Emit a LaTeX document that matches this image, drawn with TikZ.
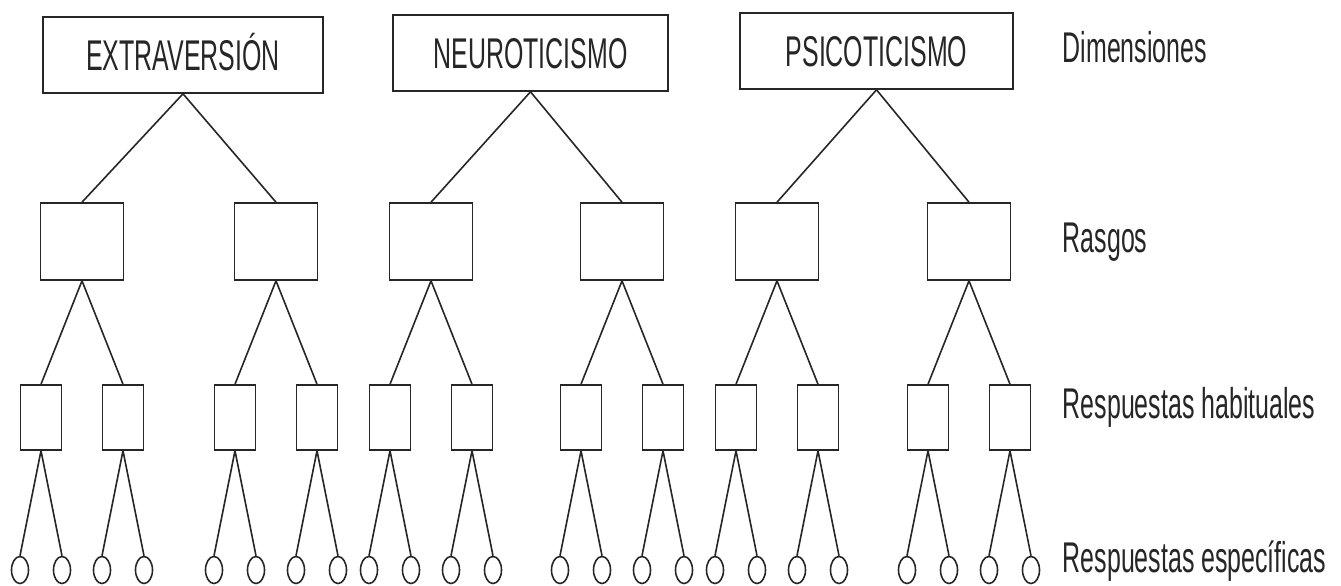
\documentclass[tikz,border=0pt]{standalone}
\usepackage{fontspec}
\newfontfamily\condfont[FakeStretch=0.58]{Liberation Sans}
\usetikzlibrary{shapes.geometric}
\definecolor{ink}{HTML}{262626}
\begin{document}
\begin{tikzpicture}[x=1pt,y=-1pt,line width=1.6pt,draw=ink,
  txt/.style={font=\condfont\fontsize{43}{50}\selectfont,text=ink},
  dimbox/.style={draw,inner sep=0pt,minimum height=76pt,txt,text height=31pt,text depth=0pt},
  rasgo/.style={draw,inner sep=0pt,minimum width=83pt,minimum height=77pt},
  habit/.style={draw,inner sep=0pt,minimum width=41pt,minimum height=65pt},
  resp/.style={draw,ellipse,inner sep=0pt,minimum width=17pt,minimum height=27pt},
  lab/.style={txt,anchor=base west,inner sep=0pt}]
\useasboundingbox (0,0) rectangle (1341,586);
\node[dimbox,minimum width=280pt] (d1) at (183,55) {EXTRAVERSIÓN};
\node[dimbox,minimum width=275pt] (d2) at (530.5,53) {NEUROTICISMO};
\node[dimbox,minimum width=273pt] (d3) at (876.5,51) {PSICOTICISMO};
\foreach \i/\x/\p in {1/82/1,2/276/1,3/431/2,4/622/2,5/777/3,6/969/3}{
  \node[rasgo] (r\i) at (\x,241.5) {};
  \draw (d\p.south) -- (r\i.north);
  \foreach \s [count=\j] in {-41,41}{
    \pgfmathtruncatemacro\h{2*(\i-1)+\j}
    \node[habit] (h\h) at (\x+\s,417.5) {};
    \draw (r\i.south) -- (h\h.north);
    \foreach \t [count=\k] in {-21,21}{
      \pgfmathtruncatemacro\c{2*(\h-1)+\k}
      \node[resp] (c\c) at (\x+\s+\t,570) {};
      \draw (h\h.south) -- (c\c.north);
    }
  }
}
\node[lab] (l1) at (1062,63) {Dimensiones};
\node[lab] (l2) at (1062,252) {Rasgos};
\node[lab] (l3) at (1062,418) {Respuestas habituales};
\node[lab] (l4) at (1062,572) {Respuestas específicas};
\end{tikzpicture}
\end{document}
